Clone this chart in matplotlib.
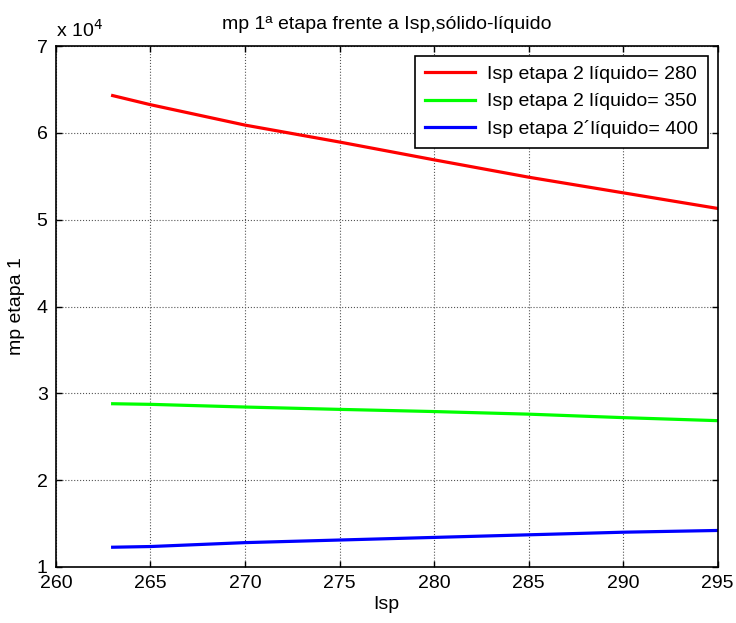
import matplotlib.pyplot as plt
import numpy as np
from matplotlib.ticker import FuncFormatter

plt.rcParams['font.family'] = ['Liberation Sans', 'DejaVu Sans']

# Isp values (x axis)
isp = [263, 265, 270, 275, 280, 285, 290, 295]

# mp etapa 1 for each Isp of stage 2
mp_280 = [64300, 63250, 60900, 58950, 56900, 54900, 53100, 51300]
mp_350 = [28800, 28730, 28420, 28150, 27900, 27600, 27200, 26850]
mp_400 = [12270, 12350, 12800, 13100, 13400, 13700, 14000, 14200]

labels = ['Isp etapa 2 líquido= 280',
          'Isp etapa 2 líquido= 350',
          'Isp etapa 2\u00b4líquido= 400']

fig = plt.figure(figsize=(7.36, 6.23), dpi=100)
ax = fig.add_axes([0.076, 0.09, 0.899, 0.836])

ax.plot(isp, mp_280, color='#ff0000', linewidth=2.3, label=labels[0])
ax.plot(isp, mp_350, color='#00ff00', linewidth=2.3, label=labels[1])
ax.plot(isp, mp_400, color='#0000ff', linewidth=2.3, label=labels[2])

ax.set_xlim(260, 295)
ax.set_ylim(10000, 70000)
ax.set_xticks(range(260, 296, 5))
ax.set_yticks(range(10000, 70001, 10000))
ax.yaxis.set_major_formatter(FuncFormatter(lambda v, p: f'{v / 1e4:g}'))

ax.tick_params(direction='in', top=True, right=True, labelsize=14, length=4, width=1)
ax.tick_params(axis='y', pad=6)
ax.tick_params(axis='x', pad=6)
for s in ax.spines.values():
    s.set_linewidth(1.2)

ax.grid(True, linestyle=':', color='#555555', linewidth=0.8)

ax.text(0.0, 1.01, r'x 10$^4$', transform=ax.transAxes, fontsize=14, ha='left', va='bottom')
ax.set_title('mp 1ª etapa frente a Isp,sólido-líquido', fontsize=14, pad=12)
ax.set_xlabel('Isp', fontsize=14, labelpad=3)
ax.set_ylabel('mp etapa 1', fontsize=14, labelpad=8)

leg = ax.legend(loc='upper right', fontsize=14, fancybox=False, framealpha=1,
                edgecolor='black', borderaxespad=0.5, handlelength=2.6,
                labelspacing=0.5, borderpad=0.5, handletextpad=0.6)
leg.get_frame().set_linewidth(1.2)

plt.savefig('out.png', dpi=100)
